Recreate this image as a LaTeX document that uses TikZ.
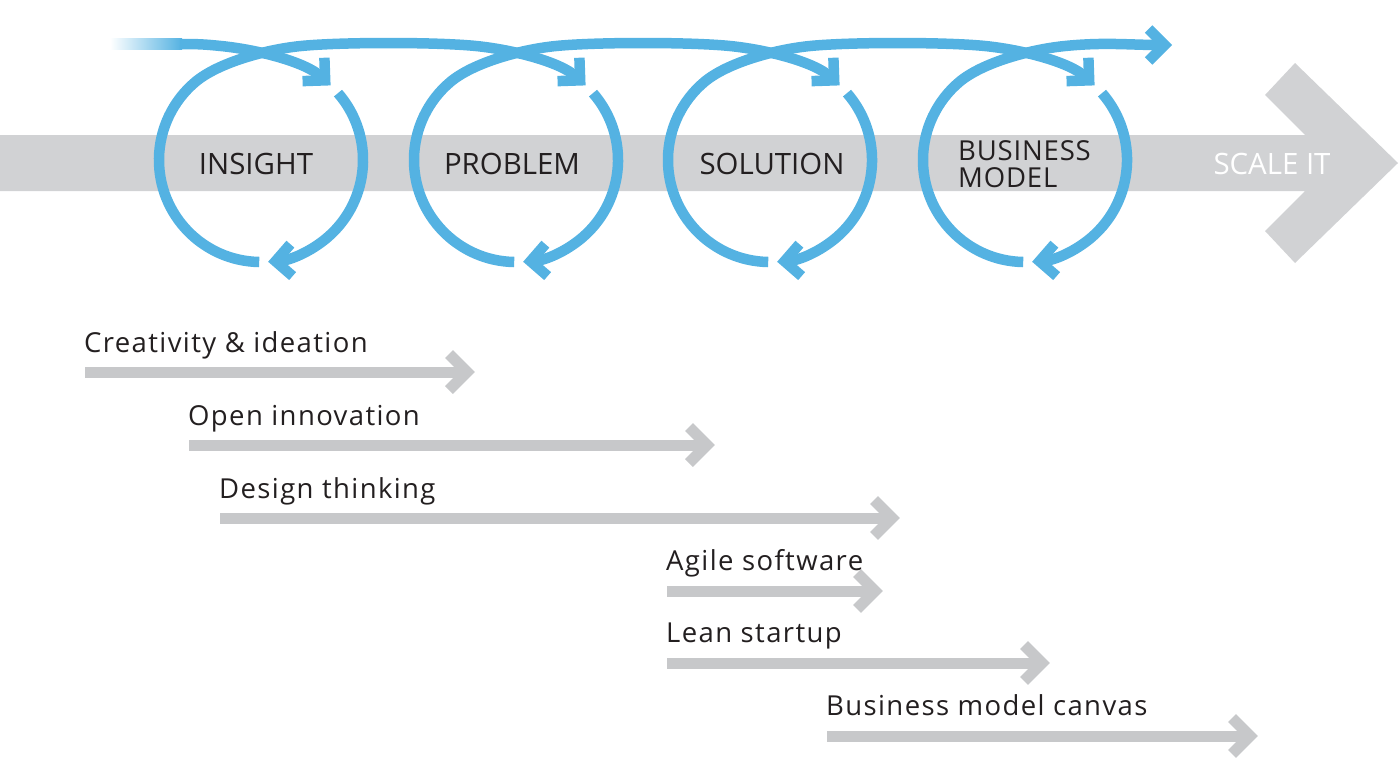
\documentclass[tikz,border=0pt]{standalone}
\usepackage{fontspec}
\setmainfont{Open Sans}
\newfontfamily\methodfont[LetterSpace=5]{Open Sans}
\newfontfamily\modelfont[LetterSpace=3]{Open Sans}
\usetikzlibrary{arrows.meta}
\definecolor{loopblue}{RGB}{84,178,226}
\definecolor{bargray}{RGB}{209,210,212}
\definecolor{trackgray}{RGB}{199,200,202}
\definecolor{labelink}{RGB}{35,31,32}

\begin{document}
\begin{tikzpicture}
[x=1pt, y=-1pt]
\tikzset{
	coil/.style = {draw=loopblue, line width=10.5, -{Straight Barb[sharp, length=16pt, width=32pt]}},
	stage/.style = {text=labelink, font=\fontsize{29.4}{32}\selectfont, inner sep=0, anchor=base},
	method/.style = {text=labelink, font=\methodfont\fontsize{27.5}{30}\selectfont, inner sep=0, anchor=base west},
	track/.style = {draw=trackgray, line width=11},
	barb/.style = {track, line join=miter}
}
\useasboundingbox (0,0) rectangle (1400,761);

% big arrow
\fill[bargray] (0,135) -- (1305,135) -- (1265,95) -- (1295,63) -- (1398,163) -- (1295,263)
	-- (1265,231) -- (1305,191) -- (0,191) -- cycle;

\node(insight) [stage] at (256,174) {INSIGHT};
\node(problem) [stage] at (512,174) {PROBLEM};
\node(solution) [stage] at (772,174) {SOLUTION};
\node(model) [stage, anchor=base west, align=left, font=\modelfont\fontsize{27.5}{27}\selectfont] at (958,187) {BUSINESS\\MODEL};
\node(scale) [stage, text=white] at (1272,174) {SCALE IT};

% coil
\shade[left color=white, right color=loopblue] (110,38.75) rectangle (182,49.25);
\draw[coil] (180,44) .. controls (200,44) and (206,44.5) .. (221,46)
	.. controls (256,49.5) and (305,61.5) .. (330.6,85.4);

\draw[coil] (338,93.1) arc[start angle=-41, end angle=86, radius=102];
\draw[coil] (259.2,262) arc[start angle=91, end angle=230, radius=102]
	.. controls (218.4,62.6) and (266,49.5) .. (301,46)
	.. controls (341,42) and (436,42) .. (476,46)
	.. controls (511,49.5) and (560,61.5) .. (585.6,85.4);

\draw[coil] (593,93.1) arc[start angle=-41, end angle=86, radius=102];
\draw[coil] (514.2,262) arc[start angle=91, end angle=230, radius=102]
	.. controls (473.4,62.6) and (521,49.5) .. (556,46)
	.. controls (596,42) and (690,42) .. (730,46)
	.. controls (765,49.5) and (814,61.5) .. (839.6,85.4);

\draw[coil] (847,93.1) arc[start angle=-41, end angle=86, radius=102];
\draw[coil] (768.2,262) arc[start angle=91, end angle=230, radius=102]
	.. controls (727.4,62.6) and (775,49.5) .. (810,46)
	.. controls (850,42) and (945,42) .. (985,46)
	.. controls (1020,49.5) and (1069,61.5) .. (1094.6,85.4);

\draw[coil] (1102,93.1) arc[start angle=-41, end angle=86, radius=102];
\draw[coil] (1023.2,262) arc[start angle=91, end angle=230, radius=102]
	.. controls (982.4,62.6) and (1030,49.5) .. (1065,46)
	.. controls (1105,42) and (1130,45) .. (1172,45);

% methods
\node(creativity) [method] at (84,352) {Creativity \& ideation};
\node(openinno) [method] at (188,425) {Open innovation};
\node(design) [method] at (219,498) {Design thinking};
\node(agile) [method] at (666,570.5) {Agile software};
\node(lean) [method] at (666,642.5) {Lean startup};
\node(canvas) [method] at (826,715.5) {Business model canvas};

\coordinate (creativity-tip) at (467,372);
\coordinate (openinno-tip) at (707,445);
\coordinate (design-tip) at (892,518);
\coordinate (agile-tip) at (875,591);
\coordinate (lean-tip) at (1042,663);
\coordinate (canvas-tip) at (1250,736);

\draw[track] (85,372) -- (creativity-tip);
\draw[barb] ([shift={(-18,-18)}]creativity-tip) -- (creativity-tip) -- ([shift={(-18,18)}]creativity-tip);
\draw[track] (189,445) -- (openinno-tip);
\draw[barb] ([shift={(-18,-18)}]openinno-tip) -- (openinno-tip) -- ([shift={(-18,18)}]openinno-tip);
\draw[track] (220,518) -- (design-tip);
\draw[barb] ([shift={(-18,-18)}]design-tip) -- (design-tip) -- ([shift={(-18,18)}]design-tip);
\draw[track] (667,591) -- (agile-tip);
\draw[barb] ([shift={(-18,-18)}]agile-tip) -- (agile-tip) -- ([shift={(-18,18)}]agile-tip);
\draw[track] (667,663) -- (lean-tip);
\draw[barb] ([shift={(-18,-18)}]lean-tip) -- (lean-tip) -- ([shift={(-18,18)}]lean-tip);
\draw[track] (827,736) -- (canvas-tip);
\draw[barb] ([shift={(-18,-18)}]canvas-tip) -- (canvas-tip) -- ([shift={(-18,18)}]canvas-tip);

\end{tikzpicture}
\end{document}
